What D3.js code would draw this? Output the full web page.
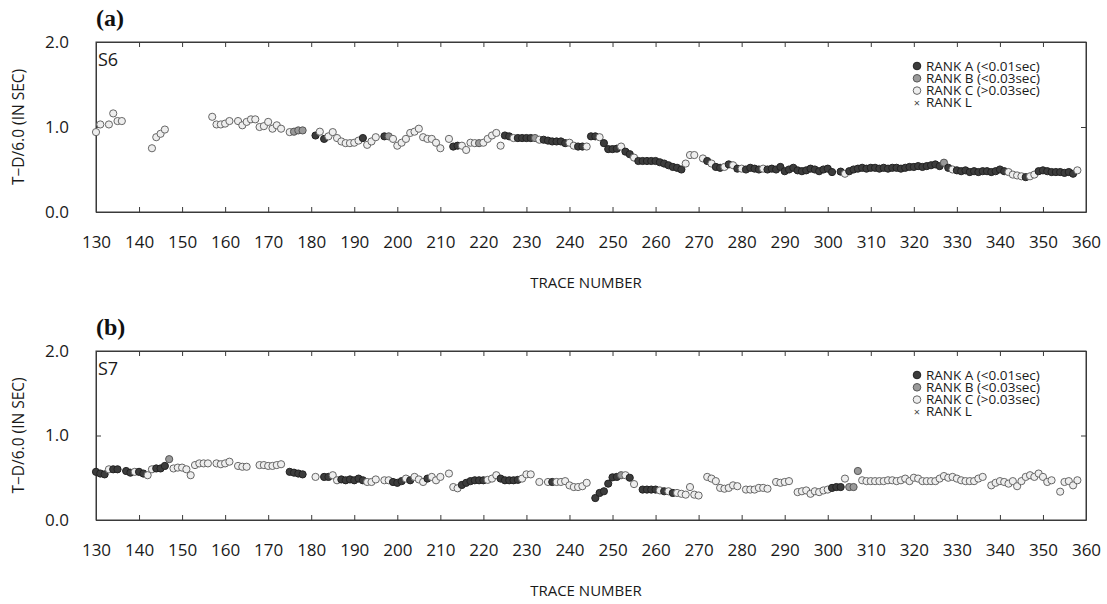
<!DOCTYPE html>
<html><head><meta charset="utf-8">
<script src="https://cdn.jsdelivr.net/npm/d3@7"></script>
<style>body{margin:0;background:#fff}svg{display:block}</style>
</head><body>
<svg id="chart" width="1107" height="604"></svg>
<script>
// ---------- DATA ----------
const xTicks = [130,140,150,160,170,180,190,200,210,220,230,240,250,260,270,280,290,300,310,320,330,340,350,360];
const yTicks = [0, 1, 2];
const yTickLabels = ["0.0","1.0","2.0"];
const legendLabels = ["RANK A (<0.01sec)","RANK B (<0.03sec)","RANK C (>0.03sec)","RANK L"];
const panelTitles = ["(a)","(b)"];
const stationNames = ["S6","S7"];

// Panel (a) S6
const traceS6 = [130,131,133,134,135,136,143,144,145,146,157,158,159,160,161,163,164,165,166,167,168,169,170,171,172,173,175,176,177,178,
181,182,183,184,185,186,187,188,189,190,191,192,193,194,195,197,198,199,200,201,202,203,204,205,206,207,208,209,210,212,213,214,215,216,217,218,219,220,221,222,223,224,
225,226,227,228,229,230,231,232,233,234,235,236,237,238,239,240,241,242,243,244,245,246,247,248,249,250,251,252,253,254,255,256,257,258,259,260,261,262,263,264,265,266,267,
268,269,271,272,273,274,275,276,277,278,279,280,281,282,283,284,285,286,287,288,289,290,291,292,293,294,295,296,297,298,299,300,301,303,304,305,306,307,308,309,310,311,312,
313,314,315,316,317,318,319,320,321,322,323,324,325,326,327,328,329,330,331,332,333,334,335,336,337,338,339,340,341,342,343,344,345,346,347,348,349,350,351,352,353,354,355,356,357,358];
const valueS6 = [0.94,1.03,1.03,1.16,1.07,1.07,0.75,0.88,0.92,0.97,1.12,1.03,1.03,1.04,1.07,1.07,1.02,1.06,1.09,1.09,1.00,1.01,1.06,0.98,1.02,0.98,0.94,0.945,0.96,0.96,
0.90,0.945,0.86,0.89,0.94,0.87,0.83,0.81,0.81,0.815,0.84,0.87,0.79,0.83,0.88,0.89,0.89,0.86,0.78,0.815,0.86,0.93,0.945,0.98,0.88,0.86,0.86,0.815,0.75,0.86,0.77,0.78,0.78,0.73,0.815,0.81,0.81,0.815,0.86,0.90,0.93,0.78,
0.90,0.89,0.87,0.87,0.87,0.87,0.87,0.87,0.85,0.85,0.84,0.83,0.83,0.83,0.81,0.815,0.78,0.77,0.77,0.77,0.89,0.89,0.88,0.81,0.74,0.74,0.745,0.77,0.71,0.68,0.64,0.60,0.60,0.60,0.60,0.60,0.585,0.57,0.55,0.53,0.52,0.50,0.57,
0.67,0.67,0.63,0.60,0.57,0.53,0.52,0.53,0.56,0.55,0.51,0.51,0.50,0.52,0.51,0.50,0.51,0.50,0.51,0.50,0.53,0.48,0.50,0.52,0.49,0.48,0.49,0.51,0.50,0.48,0.50,0.51,0.47,0.475,0.45,0.48,0.50,0.51,0.52,0.51,0.52,0.52,0.51,
0.52,0.51,0.52,0.52,0.51,0.52,0.53,0.53,0.54,0.53,0.54,0.55,0.56,0.54,0.58,0.52,0.50,0.49,0.48,0.49,0.47,0.48,0.47,0.48,0.48,0.47,0.48,0.50,0.48,0.47,0.44,0.43,0.42,0.41,0.42,0.44,0.48,0.49,0.48,0.47,0.47,0.47,0.46,0.47,0.45,0.49];
const rankS6 = ["C","C","C","C","C","C","C","C","C","C","C","C","C","C","C","C","C","C","C","C","C","C","C","C","C","C","C","B","B","B",
"A","C","A","C","C","C","C","C","C","C","C","A","C","C","C","A","B","C","C","C","C","C","C","C","C","C","C","C","C","C","A","A","C","C","C","C","B","C","C","C","C","C",
"A","A","C","A","A","A","A","B","C","A","A","A","A","A","A","C","C","A","A","C","A","A","C","A","A","A","A","C","A","A","C","A","A","A","A","A","A","A","A","A","A","A","C",
"C","C","C","A","C","A","A","C","A","C","A","C","A","A","A","A","C","A","A","A","A","A","A","A","A","A","A","A","A","A","A","A","A","A","C","A","A","A","A","A","A","A","A",
"A","A","A","A","A","A","A","A","A","A","A","A","A","A","B","A","C","A","A","A","A","A","A","A","A","A","A","A","A","C","C","C","C","A","C","C","A","A","A","A","A","A","A","A","A","C"];

// Panel (b) S7
const traceS7 = [130,131,132,133,134,135,137,138,139,140,141,142,143,144,145,146,147,148,149,150,151,152,153,154,155,156,158,159,160,161,163,164,165,168,169,170,171,172,173,175,176,177,178,
181,183,184,185,186,187,188,189,190,191,192,193,194,195,197,198,199,200,201,202,203,204,205,206,207,208,209,210,212,213,214,215,216,217,218,219,220,221,222,223,224,225,226,227,228,229,230,231,233,235,236,237,238,239,240,241,242,243,244,
246,247,248,249,250,251,252,253,254,255,257,258,259,260,261,262,263,264,265,266,267,268,269,270,272,273,274,275,276,277,278,279,281,282,283,284,285,286,288,289,290,291,293,294,295,296,297,298,299,300,301,302,303,304,305,306,307,
308,309,310,311,312,313,314,315,316,317,318,319,320,321,322,323,324,325,326,327,328,329,330,331,332,333,334,335,336,338,339,340,341,342,343,344,345,346,347,348,349,350,351,352,354,355,356,357,358];
const valueS7 = [0.57,0.55,0.54,0.60,0.60,0.60,0.58,0.56,0.57,0.57,0.55,0.53,0.60,0.61,0.61,0.64,0.72,0.61,0.62,0.62,0.60,0.53,0.65,0.67,0.67,0.67,0.67,0.66,0.67,0.69,0.64,0.63,0.63,0.65,0.65,0.64,0.64,0.65,0.66,0.57,0.56,0.55,0.54,
0.51,0.51,0.51,0.53,0.47,0.48,0.47,0.48,0.47,0.49,0.47,0.45,0.45,0.48,0.47,0.47,0.45,0.44,0.46,0.49,0.47,0.51,0.48,0.45,0.49,0.51,0.47,0.51,0.55,0.39,0.375,0.415,0.44,0.46,0.47,0.47,0.47,0.475,0.49,0.53,0.49,0.47,0.47,0.47,0.475,0.49,0.54,0.54,0.45,0.45,0.45,0.45,0.45,0.46,0.41,0.39,0.39,0.40,0.44,
0.26,0.32,0.34,0.43,0.505,0.51,0.53,0.53,0.50,0.425,0.36,0.36,0.36,0.36,0.35,0.34,0.34,0.32,0.32,0.31,0.30,0.39,0.30,0.29,0.51,0.49,0.46,0.38,0.37,0.38,0.41,0.40,0.36,0.36,0.36,0.38,0.38,0.37,0.45,0.44,0.45,0.46,0.33,0.34,0.35,0.31,0.34,0.33,0.35,0.36,0.38,0.39,0.39,0.49,0.39,0.39,0.58,
0.47,0.46,0.46,0.46,0.46,0.46,0.47,0.47,0.46,0.47,0.49,0.46,0.50,0.49,0.46,0.46,0.46,0.46,0.49,0.52,0.50,0.51,0.49,0.47,0.46,0.46,0.46,0.49,0.51,0.41,0.44,0.46,0.45,0.43,0.46,0.40,0.46,0.51,0.53,0.51,0.55,0.51,0.45,0.47,0.335,0.45,0.46,0.41,0.47];
const rankS7 = ["A","A","A","C","A","A","A","A","C","A","A","C","C","A","A","A","B","C","C","C","C","C","C","C","C","C","C","C","C","C","C","C","C","C","C","C","C","C","C","A","A","A","A",
"C","A","A","C","C","A","A","A","A","A","A","C","C","C","C","C","A","A","A","C","A","C","C","C","A","C","C","C","C","C","C","A","A","A","A","A","A","C","C","C","A","A","A","A","A","C","C","C","C","C","A","C","C","C","C","C","C","C","C",
"A","A","A","A","A","A","B","C","A","C","A","A","A","A","C","A","C","A","C","C","C","C","C","C","C","C","C","C","C","C","C","C","C","C","C","C","C","C","C","C","C","C","C","C","C","C","C","C","C","C","A","A","A","C","B","B","B",
"C","C","C","C","C","C","C","C","C","C","C","C","C","C","C","C","C","C","C","C","C","C","C","C","C","C","C","C","C","C","C","C","C","C","C","C","C","C","C","C","C","C","C","C","C","C","C","C","C"];

// ---------- STYLE ----------
const rankFill = {A:"#3c3c3c", B:"#9a9a9a", C:"#eeeeee"};
const rankStroke = {A:"#222", B:"#555", C:"#666"};
const FONT = "'Open Sans', 'Liberation Sans', sans-serif";

const svg = d3.select("#chart");
const x = d3.scaleLinear().domain([130, 360]).range([96, 1086]);

function drawPanel(top, bottom, title, station, traces, values, ranks) {
  const y = d3.scaleLinear().domain([0, 2]).range([bottom, top]);
  const g = svg.append("g");

  g.append("rect").attr("x", x(130)).attr("y", top).attr("width", x(360) - x(130)).attr("height", bottom - top)
    .attr("fill", "none").attr("stroke", "#3a3a3a").attr("stroke-width", 1);

  const bx = g.append("g").attr("transform", `translate(0,${bottom})`)
    .call(d3.axisBottom(x).tickValues(xTicks).tickFormat(d3.format("d")).tickSizeInner(-5).tickSizeOuter(0).tickPadding(24));
  bx.select(".domain").attr("stroke", "#3a3a3a");
  bx.selectAll("line").attr("stroke", "#3a3a3a");
  bx.selectAll("text").attr("font-family", FONT).attr("font-size", 17).attr("fill", "#1a1a1a");

  const tx = g.append("g").attr("transform", `translate(0,${top})`)
    .call(d3.axisTop(x).tickValues(xTicks).tickFormat("").tickSizeInner(-5).tickSizeOuter(0));
  tx.select(".domain").attr("stroke", "#3a3a3a");
  tx.selectAll("line").attr("stroke", "#3a3a3a");

  const ly = g.append("g").attr("transform", `translate(${x(130)},0)`)
    .call(d3.axisLeft(y).tickValues(yTicks).tickFormat((d, i) => yTickLabels[i]).tickSizeInner(-5).tickSizeOuter(0).tickPadding(27));
  ly.select(".domain").attr("stroke", "#3a3a3a");
  ly.selectAll("line").attr("stroke", "#3a3a3a");
  ly.selectAll("text").attr("font-family", FONT).attr("font-size", 17).attr("fill", "#1a1a1a");

  const ry = g.append("g").attr("transform", `translate(${x(360)},0)`)
    .call(d3.axisRight(y).tickValues(yTicks).tickFormat("").tickSizeInner(-5).tickSizeOuter(0));
  ry.select(".domain").attr("stroke", "#3a3a3a");
  ry.selectAll("line").attr("stroke", "#3a3a3a");

  g.append("text").attr("x", 586).attr("y", bottom + 76).attr("text-anchor", "middle")
    .attr("font-family", FONT).attr("font-size", 15).attr("fill", "#1a1a1a").text("TRACE NUMBER");
  g.append("text").attr("transform", `translate(24,${(top + bottom) / 2}) rotate(-90)`).attr("text-anchor", "middle")
    .attr("font-family", FONT).attr("font-size", 15.5).attr("fill", "#1a1a1a").text("T\u2212D/6.0 (IN SEC)");

  g.append("text").attr("x", 96).attr("y", top - 16).attr("font-family", "'Liberation Serif', serif")
    .attr("font-weight", "bold").attr("font-size", 24).attr("fill", "#111").text(title);
  g.append("text").attr("x", 98).attr("y", top + 24).attr("font-family", FONT)
    .attr("font-size", 18).attr("fill", "#1a1a1a").text(station);

  const pts = traces.map((t, i) => ({t, v: values[i], r: ranks[i]}));
  g.append("g").selectAll("circle").data(pts).join("circle")
    .attr("cx", d => x(d.t)).attr("cy", d => y(d.v)).attr("r", 3.6)
    .attr("fill", d => rankFill[d.r]).attr("stroke", d => rankStroke[d.r]).attr("stroke-width", 1);

  const lg = g.append("g").attr("transform", `translate(917,${top + 24})`);
  legendLabels.forEach((lab, i) => {
    const yy = i * 12.3;
    if (i < 3) {
      const r = ["A","B","C"][i];
      lg.append("circle").attr("cx", 0).attr("cy", yy).attr("r", 3.8)
        .attr("fill", rankFill[r]).attr("stroke", rankStroke[r]).attr("stroke-width", 1);
    } else {
      lg.append("text").attr("x", 0).attr("y", yy + 4).attr("text-anchor", "middle")
        .attr("font-family", FONT).attr("font-size", 11).attr("fill", "#444").text("\u00d7");
    }
    lg.append("text").attr("x", 9).attr("y", yy + 4.5).attr("font-family", FONT)
      .attr("font-size", 13.5).attr("fill", "#1a1a1a").text(lab);
  });
}

drawPanel(42, 212, panelTitles[0], stationNames[0], traceS6, valueS6, rankS6);
drawPanel(351, 520, panelTitles[1], stationNames[1], traceS7, valueS7, rankS7);
</script>
</body></html>
